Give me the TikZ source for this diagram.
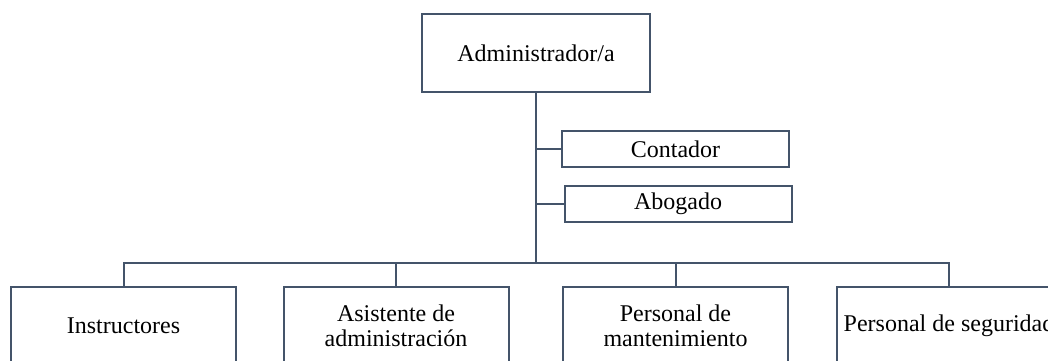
\documentclass[tikz,border=0pt]{standalone}
\usepackage{fontspec}
\setmainfont{Liberation Serif}
\usepackage{tikz}
\usetikzlibrary{positioning}
\definecolor{orgline}{HTML}{44546A}

\begin{document}
\begin{tikzpicture}[x=0.5pt,y=-0.5pt,
    bigbox/.style={draw=orgline,line width=1pt,minimum width=112.5pt,minimum height=39pt,
      inner sep=0pt,align=center,font=\fontsize{12}{12.5}\selectfont},
    smallbox/.style={bigbox,minimum width=113.5pt,minimum height=18pt},
    link/.style={draw=orgline,line width=1pt}]
      \useasboundingbox (0,0) rectangle (1048,360);
      \node(Adm) [bigbox,minimum width=114pt] at (536,53) {Administrador/a};
      \node(Con) [smallbox] at (675.5,149) {Contador};
      \node(Abo) [smallbox] at (678,204) {Abogado};
      \node(Ins) [bigbox] at (123.5,326) {Instructores};
      \node(Asi) [bigbox,right=22.75pt of Ins] {Asistente de\\administración};
      \node(Man) [bigbox,right=26.25pt of Asi] {Personal de\\mantenimiento};
      \node(Seg) [bigbox,right=23.25pt of Man] {Personal de seguridad};
      \coordinate(bus) at (536,263);

      \draw[link,line width=1.4pt] (Adm) -- (bus);
      \draw[link] (Con.west) -- (Con.west -| bus);
      \draw[link] (Abo.west) -- (Abo.west -| bus);
      \draw[link] (Ins.north) |- (bus) -| (Seg.north);
      \draw[link] (Asi.north) -- (Asi.north |- bus);
      \draw[link] (Man.north) -- (Man.north |- bus);
    \end{tikzpicture}
\end{document}
